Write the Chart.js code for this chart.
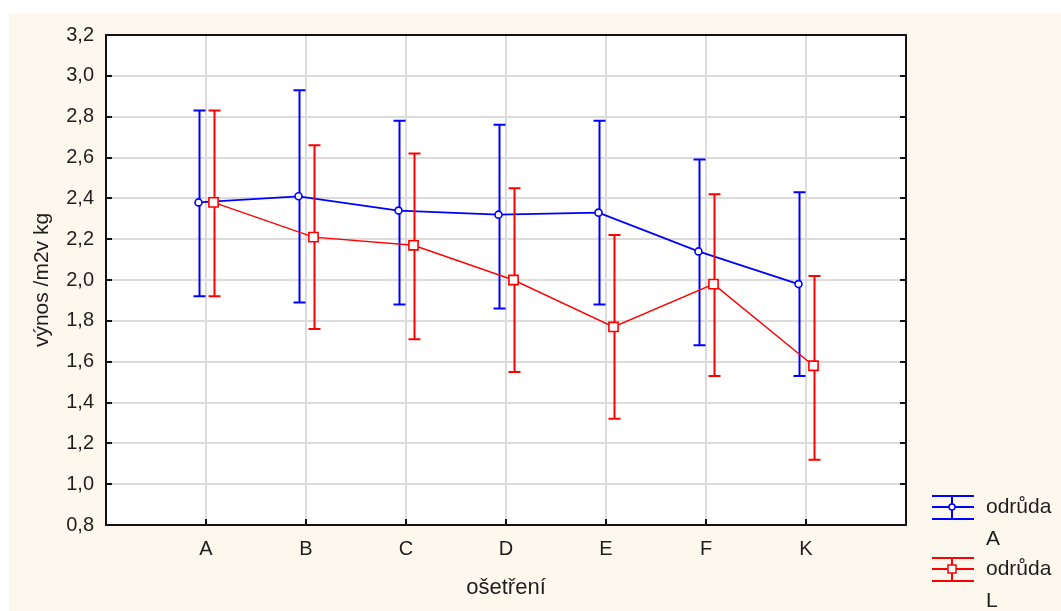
<!DOCTYPE html>
<html>
<head>
<meta charset="utf-8">
<script src="https://cdn.jsdelivr.net/npm/chart.js@4/dist/chart.umd.min.js"></script>
<style>
  html, body { margin: 0; padding: 0; background: #ffffff; }
  canvas { display: block; }
</style>
</head>
<body>
<canvas id="yieldChart" width="1061" height="611"></canvas>
<script>
// ošetření (treatments)
const categories = ['A', 'B', 'C', 'D', 'E', 'F', 'K'];

// odrůda A: mean and error-bar limits
const meanA  = [2.38, 2.41, 2.34, 2.32, 2.33, 2.14, 1.98];
const lowA   = [1.92, 1.89, 1.88, 1.86, 1.88, 1.68, 1.53];
const highA  = [2.83, 2.93, 2.78, 2.76, 2.78, 2.59, 2.43];

// odrůda L: mean and error-bar limits
const meanL  = [2.38, 2.21, 2.17, 2.00, 1.77, 1.98, 1.58];
const lowL   = [1.92, 1.76, 1.71, 1.55, 1.32, 1.53, 1.12];
const highL  = [2.83, 2.66, 2.62, 2.45, 2.22, 2.42, 2.02];

const yTicks = [0.8, 1.0, 1.2, 1.4, 1.6, 1.8, 2.0, 2.2, 2.4, 2.6, 2.8, 3.0, 3.2];

const FONT = "'Liberation Sans', Arial, sans-serif";
const TEXT = '#1e1e1e';
const BLUE = '#0000ff';
const RED = '#ff0000';
const SHIFT = 0.075; // side-by-side offset of the two series

const fmt = v => Number(v).toFixed(1).replace('.', ',');

const series = [
    { label: 'odrůda A', mean: meanA, low: lowA, high: highA, color: BLUE, shift: -SHIFT, style: 'circle' },
    { label: 'odrůda L', mean: meanL, low: lowL, high: highL, color: RED, shift: SHIFT, style: 'rect' }
];

// background: white margin, cream panel, white plot area
const backdrop = {
    id: 'backdrop',
    beforeDraw(chart) {
        const { ctx, chartArea: a, width, height } = chart;
        ctx.save();
        ctx.fillStyle = '#ffffff';
        ctx.fillRect(0, 0, width, height);
        ctx.fillStyle = '#fdf8ee';
        ctx.fillRect(9, 13, width - 9, height - 13);
        ctx.fillStyle = '#ffffff';
        ctx.fillRect(a.left, a.top, a.right - a.left, a.bottom - a.top);
        ctx.restore();
    }
};

// vertical error bars with caps, drawn under each series' line
const errorBars = {
    id: 'errorBars',
    beforeDatasetDraw(chart, args) {
        const s = series[args.index];
        const meta = args.meta;
        const y = chart.scales.y;
        const ctx = chart.ctx;
        ctx.save();
        ctx.strokeStyle = s.color;
        ctx.lineWidth = 2;
        meta.data.forEach((pt, i) => {
            const x = Math.round(pt.x) + 0.5;
            const yl = y.getPixelForValue(s.low[i]);
            const yh = y.getPixelForValue(s.high[i]);
            ctx.beginPath();
            ctx.moveTo(x, yh);
            ctx.lineTo(x, yl);
            ctx.moveTo(x - 6, yh);
            ctx.lineTo(x + 6, yh);
            ctx.moveTo(x - 6, yl);
            ctx.lineTo(x + 6, yl);
            ctx.stroke();
        });
        ctx.restore();
    }
};

// frame, inward tick marks and the legend
const frame = {
    id: 'frame',
    afterDraw(chart) {
        const { ctx, chartArea: a } = chart;
        const y = chart.scales.y;
        const x = chart.scales.x;
        ctx.save();
        ctx.strokeStyle = '#111111';
        ctx.lineWidth = 2;
        ctx.beginPath();
        yTicks.slice(1, -1).forEach(v => {
            const py = Math.round(y.getPixelForValue(v));
            ctx.moveTo(a.left, py);
            ctx.lineTo(a.left + 6, py);
            ctx.moveTo(a.right, py);
            ctx.lineTo(a.right - 6, py);
        });
        categories.forEach((c, i) => {
            const px = Math.round(x.getPixelForValue(i + 1));
            ctx.moveTo(px, a.bottom);
            ctx.lineTo(px, a.bottom - 6);
        });
        ctx.stroke();
        ctx.strokeRect(a.left, a.top, a.right - a.left, a.bottom - a.top);

        // legend entries
        ctx.font = '21px ' + FONT;
        ctx.textBaseline = 'middle';
        ctx.textAlign = 'left';
        series.forEach((s, k) => {
            const cy = a.bottom - 18 + k * 62;
            const x0 = a.right + 26, x1 = a.right + 68, xm = a.right + 46;
            ctx.strokeStyle = s.color;
            ctx.lineWidth = 2;
            ctx.beginPath();
            [-11, 0, 12].forEach(d => {
                ctx.moveTo(x0, cy + d);
                ctx.lineTo(x1, cy + d);
            });
            ctx.moveTo(xm, cy - 11);
            ctx.lineTo(xm, cy + 12);
            ctx.stroke();
            ctx.fillStyle = '#ffffff';
            ctx.lineWidth = 1.5;
            ctx.beginPath();
            if (s.style === 'circle') {
                ctx.arc(xm, cy, 3, 0, Math.PI * 2);
            } else {
                ctx.rect(xm - 4, cy - 4, 8, 8);
            }
            ctx.fill();
            ctx.stroke();
            ctx.fillStyle = TEXT;
            const words = s.label.split(' ');
            ctx.fillText(words[0], a.right + 80, cy);
            ctx.fillText(words[1], a.right + 80, cy + 32);
        });
        ctx.restore();
    }
};

new Chart(document.getElementById('yieldChart'), {
    type: 'line',
    data: {
        datasets: series.map((s, k) => ({
            label: s.label,
            data: s.mean.map((v, i) => ({ x: i + 1 + s.shift, y: v })),
            borderColor: s.color,
            borderWidth: k === 0 ? 1.8 : 1.4,
            pointStyle: s.style,
            pointRadius: s.style === 'circle' ? 3.5 : 6.5,
            pointBorderWidth: 1.6,
            pointBorderColor: s.color,
            pointBackgroundColor: '#ffffff',
            tension: 0,
            order: 1 - k
        }))
    },
    options: {
        responsive: false,
        animation: false,
        events: [],
        layout: { padding: { top: 35, right: 155, bottom: 6, left: 26 } },
        plugins: {
            legend: { display: false },
            tooltip: { enabled: false }
        },
        scales: {
            x: {
                type: 'linear',
                min: 0,
                max: 8,
                afterFit: scale => { scale.height = 80; },
                afterBuildTicks: scale => {
                    scale.ticks = [0, 1, 2, 3, 4, 5, 6, 7, 8].map(v => ({ value: v }));
                },
                grid: {
                    color: ctx => (ctx.tick && ctx.tick.value > 0 && ctx.tick.value < 8) ? '#dcdcdc' : 'rgba(0,0,0,0)',
                    lineWidth: 2,
                    drawTicks: false
                },
                border: { display: false },
                ticks: {
                    autoSkip: false,
                    maxRotation: 0,
                    padding: 12,
                    color: TEXT,
                    font: { family: FONT, size: 20 },
                    callback: v => categories[v - 1] || ''
                },
                title: {
                    display: true,
                    text: 'ošetření',
                    color: TEXT,
                    font: { family: FONT, size: 22 }
                }
            },
            y: {
                min: 0.8,
                max: 3.2,
                afterFit: scale => { scale.width = 80; },
                afterBuildTicks: scale => {
                    scale.ticks = yTicks.map(v => ({ value: v }));
                },
                grid: {
                    color: ctx => (ctx.tick && ctx.tick.value > 0.85 && ctx.tick.value < 3.15) ? '#dcdcdc' : 'rgba(0,0,0,0)',
                    lineWidth: 2,
                    drawTicks: false
                },
                border: { display: false },
                ticks: {
                    padding: 12,
                    color: TEXT,
                    font: { family: FONT, size: 20 },
                    callback: v => fmt(v)
                },
                title: {
                    display: true,
                    text: 'výnos /m2v kg',
                    color: TEXT,
                    font: { family: FONT, size: 21 }
                }
            }
        }
    },
    plugins: [backdrop, errorBars, frame]
});
</script>
</body>
</html>
